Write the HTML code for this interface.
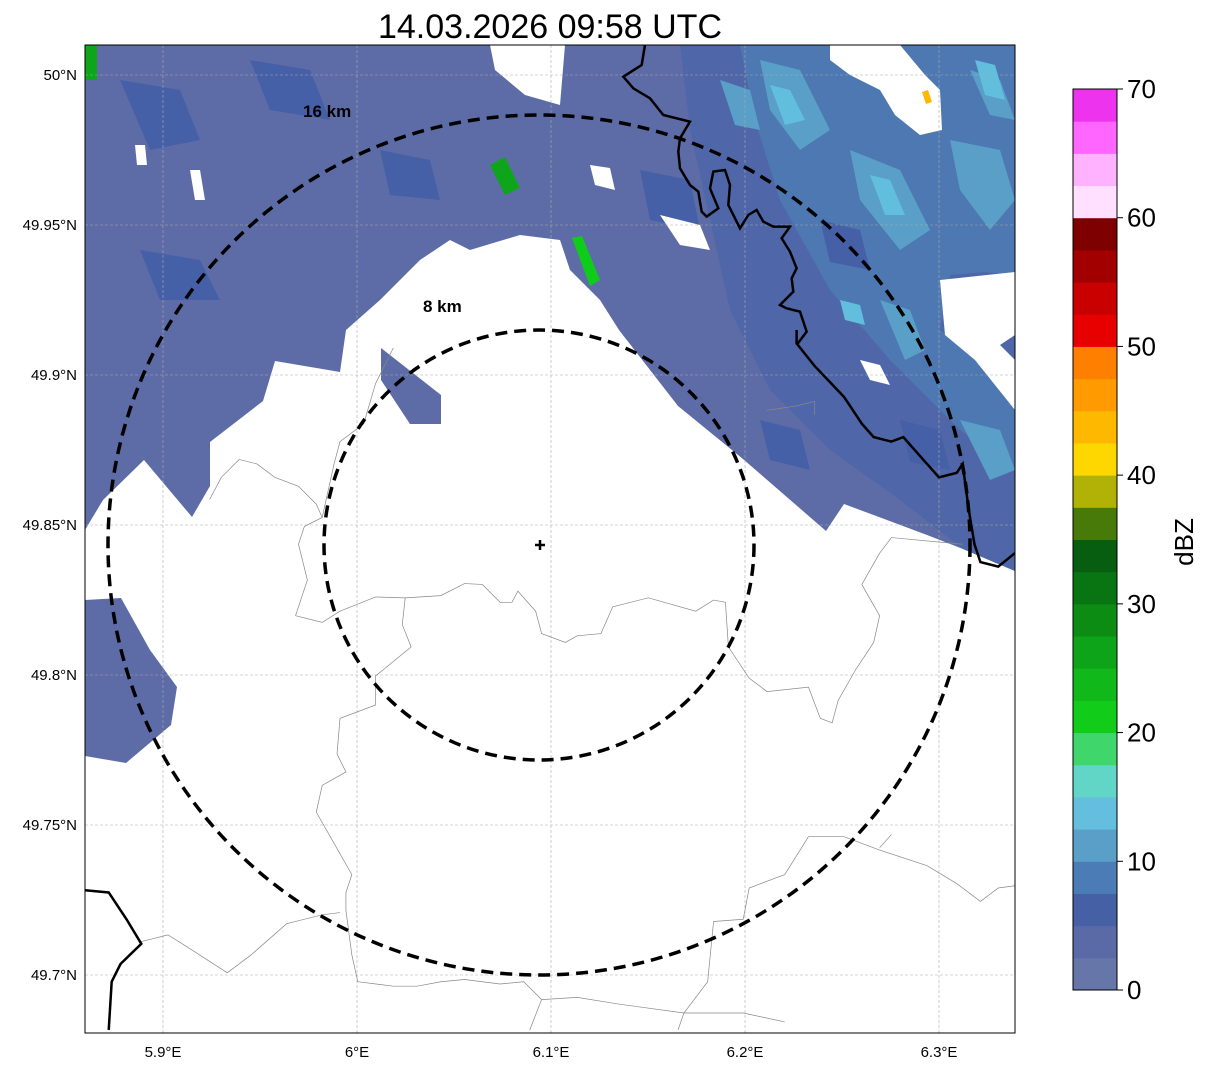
<!DOCTYPE html>
<html><head><meta charset="utf-8"><style>
body{margin:0;background:#fff;}
svg{display:block;font-family:"Liberation Sans","DejaVu Sans",sans-serif;}
</style></head><body>
<svg id="fig" width="1207" height="1069" viewBox="0 0 1207 1069" xmlns="http://www.w3.org/2000/svg">
<text x="550" y="38" font-size="34" text-anchor="middle">14.03.2026 09:58 UTC</text>
<defs><clipPath id="mapclip"><rect x="85" y="45" width="930" height="988"/></clipPath></defs>
<g clip-path="url(#mapclip)">
<rect x="85" y="45" width="930" height="988" fill="#fff"/>
<g>
<polygon fill="#5d6ca6" points="85,45 490,45 495,70 525,95 560,105 565,45 1015,45 1015,275 985,272 950,275 940,330 970,350 1015,405 1015,571 963,549 927,535 844,504 826,531 743,459 678,406 619,330 600,300 570,270 560,240 520,235 470,250 450,240 420,260 380,300 346,330 340,372 275,361 263,401 210,442 210,486 192,517 144,460 103,500 85,530"/>
<polygon fill="#5d6ca6" points="381,348 441,395 441,424 410,424 381,380"/>
<polygon fill="#5d6ca6" points="85,600 121,598 150,650 177,687 171,725 126,763 85,756"/>
<polygon fill="#4f67a8" points="680,45 1015,45 1015,571 963,549 900,500 830,450 770,390 730,310 710,220 690,130"/>
<polygon fill="#4d78b2" points="740,45 1015,45 1015,275 985,272 950,275 940,330 970,350 1015,405 1015,470 960,430 890,360 830,290 780,200 755,120"/>
<g fill="#599fc8">
<polygon points="760,60 800,70 830,130 800,150 770,110"/>
<polygon points="850,150 900,170 930,230 900,250 860,200"/>
<polygon points="950,140 1000,150 1015,200 990,230 960,190"/>
<polygon points="880,300 910,310 925,350 905,360"/>
<polygon points="960,420 1000,430 1015,470 990,480"/>
<polygon points="720,80 750,90 760,130 735,125"/>
<polygon points="970,70 1000,80 1015,120 990,115"/>
</g>
<g fill="#62bedd">
<polygon points="770,85 790,90 805,120 785,125"/>
<polygon points="870,175 890,180 905,215 885,215"/>
<polygon points="975,60 995,65 1005,100 985,95"/>
<polygon points="840,300 860,305 865,325 845,320"/>
</g>
<g fill="#4660a8">
<polygon points="120,80 180,90 200,140 150,150"/>
<polygon points="250,60 310,70 330,120 270,110"/>
<polygon points="140,250 200,260 220,300 160,300"/>
<polygon points="380,150 430,160 440,200 390,195"/>
<polygon points="640,170 690,180 700,230 650,220"/>
<polygon points="760,420 800,430 810,470 770,460"/>
<polygon points="820,220 860,230 870,270 830,262"/>
<polygon points="900,420 940,430 950,470 910,462"/>
</g>
<g fill="#fff">
<polygon points="830,45 900,45 925,75 940,90 942,130 920,135 895,115 880,90 850,75 830,60"/>
<polygon points="940,280 1015,272 1015,335 1000,345 1015,360 1015,410 975,360 945,335"/>
<polygon points="190,170 200,170 205,200 195,200"/>
<polygon points="135,145 145,145 147,165 137,165"/>
<polygon points="660,215 700,225 710,250 680,245"/>
<polygon points="590,165 610,168 615,190 595,185"/>
<polygon points="860,360 880,365 890,385 870,380"/>
</g>
<polygon fill="#0ea51a" points="490,165 505,157 520,188 505,195"/>
<polygon fill="#10cc1a" points="572,238 582,236 600,280 590,286"/>
<polygon fill="#0ea51a" points="85,45 97,45 97,80 85,80"/>
<polygon fill="#ffb800" points="922,92 928,90 932,102 926,104"/>
</g>
<g stroke="#aaa" stroke-width="0.6" stroke-dasharray="3,2" id="grid"></g>
<g fill="none" stroke="#888" stroke-width="0.7" transform="matrix(0.593,0,0,0.4464,85,330)">
<polyline vector-effect="non-scaling-stroke" points="355,640 400,655 430,630 490,598 540,600 600,595 640,568 670,570 700,610 720,610 730,585 760,630 770,680 810,700 830,685 870,680 890,620 950,600 1030,630 1060,605 1080,610 1085,710 1120,780 1150,810 1220,800 1240,870 1260,880 1270,830 1300,760 1330,700 1340,640 1310,570 1340,500 1360,465 1480,480"/>
<polyline vector-effect="non-scaling-stroke" points="520,40 490,120 470,210 430,250 420,300 400,420 370,440 360,480 375,560 355,640"/>
<polyline vector-effect="non-scaling-stroke" points="210,380 230,330 260,290 290,300 320,330 360,350 390,390 400,420"/>
<polyline vector-effect="non-scaling-stroke" points="540,600 535,660 550,710 490,775 490,840 430,870 425,950 440,990 400,1020 390,1080 420,1150 450,1220 440,1260 440,1300 450,1400 460,1460 520,1470 560,1470 600,1460 640,1455 700,1465 740,1460 770,1500 750,1568"/>
<polyline vector-effect="non-scaling-stroke" points="95,1370 140,1355 170,1380 240,1440 280,1400 340,1330 400,1310 430,1305"/>
<polyline vector-effect="non-scaling-stroke" points="1220,1135 1280,1135 1340,1165 1420,1200 1470,1240 1510,1280 1540,1250 1568,1245"/>
<polyline vector-effect="non-scaling-stroke" points="1360,1130 1340,1160"/>
<polyline vector-effect="non-scaling-stroke" points="1220,1135 1180,1220 1120,1250 1110,1320 1060,1325 1050,1460 1010,1530 1000,1568"/>
<polyline vector-effect="non-scaling-stroke" points="1150,180 1200,170 1230,160 1230,190"/>
<polyline vector-effect="non-scaling-stroke" points="770,1500 830,1495 900,1510 1010,1530 1110,1530 1180,1550"/>
</g>
<g fill="none" stroke="#000" stroke-width="2.5">
<polyline transform="matrix(0.3333,0,0,0.3333,600,45)" vector-effect="non-scaling-stroke" points="135,0 125,60 70,95 100,130 150,160 190,210 270,230 240,280 235,320 240,370 270,420 295,440 305,500 320,515 355,490 330,430 340,380 375,375 390,420 385,480 420,550 445,510 470,495 490,530 520,545 570,545 545,580 570,620 590,670 575,700 580,740 540,780 560,790 600,800 620,860 590,900"/>
<polyline transform="matrix(0.593,0,0,0.4464,85,330)" vector-effect="non-scaling-stroke" points="1200,0 1200,30 1230,80 1280,150 1310,210 1330,240 1360,250 1380,240 1400,270 1420,300 1440,330 1470,320 1480,300 1490,400 1500,480 1510,520 1540,530 1568,500"/>
<polyline transform="matrix(0.593,0,0,0.4464,85,330)" vector-effect="non-scaling-stroke" points="0,1255 40,1260 70,1320 95,1375 60,1420 45,1460 40,1568"/>
</g>
<g fill="none" stroke="#000" stroke-width="3.5" stroke-dasharray="12,7">
<ellipse cx="539" cy="545" rx="215" ry="215"/>
<ellipse cx="539" cy="545" rx="431" ry="430"/>
</g>
<text x="303" y="117" font-size="17" font-weight="bold">16 km</text>
<text x="423" y="312" font-size="17" font-weight="bold">8 km</text>
<g stroke="#000" stroke-width="2.5"><line x1="535" y1="545" x2="545" y2="545"/><line x1="540" y1="540" x2="540" y2="550"/></g>
</g>
<rect x="85" y="45" width="930" height="988" fill="none" stroke="#000" stroke-width="1"/>
<g id="axes" font-size="15"></g>
<g id="cbar"></g>
<text transform="translate(1193,542) rotate(-90)" font-size="26" text-anchor="middle">dBZ</text>
</svg>
<script>
const NS="http://www.w3.org/2000/svg";
const lonTicks=[5.9,6.0,6.1,6.2,6.3];
const lonLabels=["5.9°E","6°E","6.1°E","6.2°E","6.3°E"];
const latTicks=[50.0,49.95,49.9,49.85,49.8,49.75,49.7];
const latLabels=["50°N","49.95°N","49.9°N","49.85°N","49.8°N","49.75°N","49.7°N"];
const cbarColors=["#6676a9","#5a6aa6","#4660a6","#4c7cb6","#5a9fc8","#64bedd","#62d6c6","#3fd66c","#12cc1a","#10b81a","#0ea41a","#0c8c12","#097412","#075e10","#477a08","#b0b206","#ffd700","#ffb800","#ff9a00","#ff7f00","#e60000","#c80000","#a20000","#7e0000","#ffe0ff","#ffb2ff","#ff66ff","#ee33ee"];
const cbarTicks=[0,10,20,30,40,50,60,70];
const xScale=v=>163+(v-5.9)*1940;
const yScale=v=>75+(50.0-v)*3000;
const cScale=v=>990-v*(901/70);
function mk(tag,attrs,parent){const e=document.createElementNS(NS,tag);for(const k in attrs)e.setAttribute(k,attrs[k]);parent.appendChild(e);return e;}
const grid=document.getElementById('grid'),axes=document.getElementById('axes'),cbar=document.getElementById('cbar');
lonTicks.forEach((v,i)=>{const x=xScale(v);
 const l=mk('line',{x1:x,y1:45,x2:x,y2:1033},grid);
 
 
 const t=mk('text',{x:x,y:1057,'text-anchor':'middle'},axes);t.textContent=lonLabels[i];
 
 
});
latTicks.forEach((v,i)=>{const y=yScale(v);
 const l=mk('line',{x1:85,y1:y,x2:1015,y2:y},grid);
 
 
 const t=mk('text',{x:77,y:y+5,'text-anchor':'end'},axes);t.textContent=latLabels[i];
 
 
});
const step=70/cbarColors.length;
cbarColors.forEach((c,i)=>{const y0=cScale(i*step),y1=cScale((i+1)*step);
 const r=mk('rect',{x:1073,y:y1,width:44,height:y0-y1+0.5,fill:c},cbar);
 
 
});
const fr=mk('rect',{x:1073,y:89,width:44,height:901,fill:'none',stroke:'#000','stroke-width':1},cbar);


cbarTicks.forEach(v=>{const y=cScale(v);
 mk('line',{x1:1117,y1:y,x2:1123,y2:y,stroke:'#000'},cbar);
 const t=mk('text',{x:1127,y:y+9,'font-size':26},cbar);t.textContent=v;
 
 
});
</script>
</body></html>
